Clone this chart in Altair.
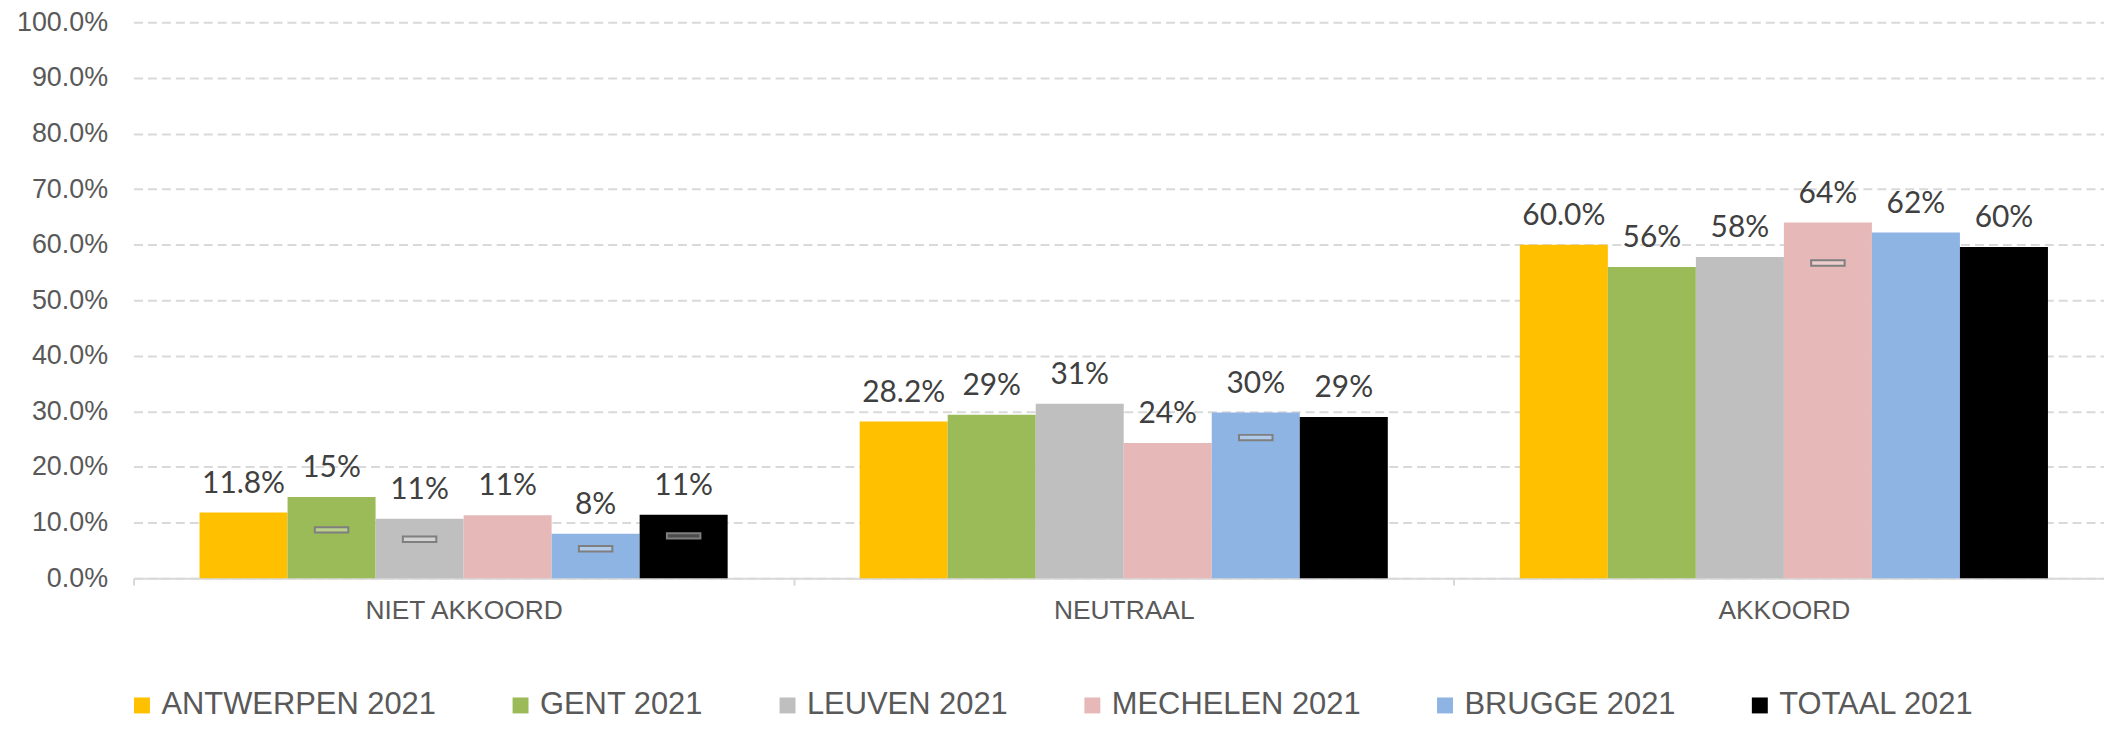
import altair as alt
import pandas as pd

categories = ["NIET AKKOORD", "NEUTRAAL", "AKKOORD"]
series = ["ANTWERPEN 2021", "GENT 2021", "LEUVEN 2021", "MECHELEN 2021", "BRUGGE 2021", "TOTAAL 2021"]
colors = ["#FFC000", "#9BBB59", "#BFBFBF", "#E6B9B8", "#8DB4E2", "#000000"]

antwerpen = [0.118, 0.282, 0.600]
gent = [0.146, 0.294, 0.560]
leuven = [0.107, 0.314, 0.578]
mechelen = [0.113, 0.243, 0.640]
brugge = [0.080, 0.298, 0.622]
totaal = [0.114, 0.290, 0.596]

# small grey markers inside some bars (None = no marker)
antwerpen_marker = [None, None, None]
gent_marker = [0.087, None, None]
leuven_marker = [0.070, None, None]
mechelen_marker = [None, None, 0.567]
brugge_marker = [0.053, 0.253, None]
totaal_marker = [0.076, None, None]

values = [antwerpen, gent, leuven, mechelen, brugge, totaal]
markers = [antwerpen_marker, gent_marker, leuven_marker, mechelen_marker, brugge_marker, totaal_marker]

rows = []
for si, s in enumerate(series):
    for ci, c in enumerate(categories):
        rows.append({"category": c, "series": s, "value": values[si][ci], "marker": markers[si][ci]})
df = pd.DataFrame(rows)

x_enc = alt.X(
    "category:N", sort=categories,
    scale=alt.Scale(paddingInner=0, paddingOuter=0, range=[0, 1988]),
    axis=alt.Axis(title=None, labelAngle=0, labelFontSize=26.5, labelColor="#595959",
                  labelFont="Liberation Sans", domainColor="#D9D9D9", domainWidth=2,
                  tickColor="#D9D9D9", tickWidth=2, tickSize=7, tickBand="extent",
                  labelPadding=12, labelLimit=600, grid=False),
)
xoff_enc = alt.XOffset("series:N", sort=series,
                       scale=alt.Scale(domain=series, paddingInner=0, paddingOuter=0.75))
y_scale = alt.Scale(domain=[0, 1], nice=False)

base = alt.Chart(df).encode(x=x_enc, xOffset=xoff_enc)

bars = base.mark_bar().encode(
    y=alt.Y("value:Q", scale=y_scale,
            axis=alt.Axis(title=None, values=[i / 10 for i in range(11)], format=".1%",
                          labelFontSize=27, labelColor="#595959", labelFont="Liberation Sans",
                          domain=False, ticks=False, tickSize=0, labelPadding=26,
                          grid=True, gridDash=[9, 5], gridColor="#D9D9D9", gridWidth=2)),
    color=alt.Color("series:N", sort=series, scale=alt.Scale(domain=series, range=colors),
                    legend=alt.Legend(title=None, orient="none", legendX=-7, legendY=670,
                                      direction="horizontal", columns=6, symbolType="square",
                                      symbolSize=256, symbolStrokeWidth=0, labelFontSize=31,
                                      labelFont="Liberation Sans", labelColor="#595959",
                                      labelOffset=4, columnPadding=69, padding=0,
                                      labelLimit=500)),
)

labels = base.transform_calculate(
    label="datum.series == 'ANTWERPEN 2021' ? format(datum.value, '.1%') : format(datum.value, '.0%')"
).mark_text(font="Lato", fontSize=30, color="#404040", baseline="alphabetic", dy=-20).encode(
    y=alt.Y("value:Q", scale=y_scale, title=None),
    text="label:N",
)

marks = base.transform_filter("isValid(datum.marker)").mark_point(
    shape="M-1,-0.16L1,-0.16L1,0.16L-1,0.16Z", size=1130, fill="#FFFFFF", fillOpacity=0.3,
    stroke="#7F7F7F", strokeWidth=2, strokeOpacity=1, opacity=1,
).encode(
    y=alt.Y("marker:Q", scale=y_scale, title=None),
)

chart = alt.layer(bars, labels, marks).properties(
    width=1978, height=558,
    padding={"left": 126, "top": 13, "right": 0, "bottom": 144},
    autosize=alt.AutoSizeParams(type="none"),
).configure_view(stroke=None)

chart.save("out.html", embed_options={"renderer": "svg", "actions": False})
